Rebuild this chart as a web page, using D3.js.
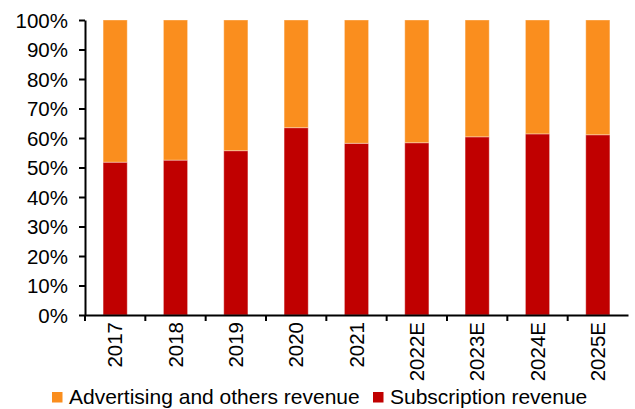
<!DOCTYPE html>
<html>
<head>
	<style type="text/css">
		html, body { margin: 0; padding: 0; background: #fff; }
		svg text { font-family: Arial, "Liberation Sans", sans-serif; fill: #000; }
	</style>
</head>
<body>
	<svg id="chart" width="635" height="409"></svg>
	<script src="https://cdn.jsdelivr.net/npm/d3@7/dist/d3.min.js"></script>
	<script type="text/javascript">
		// values, as shares of total revenue
		const years = ['2017', '2018', '2019', '2020', '2021', '2022E', '2023E', '2024E', '2025E'];
		const subscription = [0.518, 0.525, 0.557, 0.635, 0.582, 0.584, 0.604, 0.614, 0.611];
		const advertising = subscription.map(v => 1 - v);
		const yTicks = [0, 0.1, 0.2, 0.3, 0.4, 0.5, 0.6, 0.7, 0.8, 0.9, 1];
		const seriesNames = ['Advertising and others revenue', 'Subscription revenue'];
		const colors = { sub: '#c00000', adv: '#fa8e1e' };

		const svg = d3.select('#chart');

		const x = d3.scaleBand()
			.domain(years)
			.range([85, 628])
			.paddingInner(0.6)
			.paddingOuter(0.3);

		const y = d3.scaleLinear()
			.domain([0, 1])
			.range([315, 20]);

		// bars: subscription at the bottom, advertising stacked on top
		const bars = svg.append('g');
		bars.selectAll('.sub')
			.data(years)
			.enter().append('rect')
			.attr('x', d => x(d))
			.attr('width', x.bandwidth())
			.attr('y', (d, i) => y(subscription[i]))
			.attr('height', (d, i) => y(0) - y(subscription[i]))
			.attr('fill', colors.sub)
			.attr('stroke', 'rgba(255,255,255,0.35)')
			.attr('stroke-width', 1);

		bars.selectAll('.adv')
			.data(years)
			.enter().append('rect')
			.attr('x', d => x(d))
			.attr('width', x.bandwidth())
			.attr('y', (d, i) => y(subscription[i] + advertising[i]))
			.attr('height', (d, i) => y(subscription[i]) - y(subscription[i] + advertising[i]))
			.attr('fill', colors.adv)
			.attr('stroke', 'rgba(255,255,255,0.35)')
			.attr('stroke-width', 1);

		// y axis
		const yAxis = svg.append('g')
			.attr('transform', 'translate(85,0)')
			.call(d3.axisLeft(y)
				.tickValues(yTicks)
				.tickFormat(d3.format('.0%'))
				.tickSize(6)
				.tickSizeOuter(0)
				.tickPadding(11));
		yAxis.selectAll('text').style('font-size', '20.5px').attr('dy', '0.35em');
		yAxis.select('.domain').attr('stroke-width', 2);
		yAxis.selectAll('.tick line').attr('stroke-width', 2);

		// x axis: labels under bars, tick marks between bands
		const xAxis = svg.append('g')
			.attr('transform', 'translate(0,315)')
			.call(d3.axisBottom(x).tickSize(0).tickSizeOuter(0).tickPadding(0));
		xAxis.select('.domain').attr('stroke-width', 2);
		xAxis.selectAll('.tick text')
			.style('font-size', '20.5px')
			.attr('transform', 'rotate(-90)')
			.attr('text-anchor', 'end')
			.attr('x', -7)
			.attr('y', 0)
			.attr('dy', '0.35em');

		const step = x.step();
		const bounds = d3.range(0, years.length).map(i => x.range()[0] + i * step);
		xAxis.selectAll('.sep')
			.data(bounds)
			.enter().append('line')
			.attr('x1', d => d).attr('x2', d => d)
			.attr('y1', 0).attr('y2', 6)
			.attr('stroke', '#000')
			.attr('stroke-width', 2);

		// legend
		const legendItems = [
			{ name: seriesNames[0], color: colors.adv, x: 52 },
			{ name: seriesNames[1], color: colors.sub, x: 373 }
		];
		const legend = svg.append('g');
		legendItems.forEach(item => {
			legend.append('rect')
				.attr('x', item.x).attr('y', 392)
				.attr('width', 10.5).attr('height', 10.5)
				.attr('fill', item.color);
			legend.append('text')
				.attr('x', item.x + 17)
				.attr('y', 403.5)
				.style('font-size', '21px')
				.text(item.name);
		});
	</script>
</body>
</html>
